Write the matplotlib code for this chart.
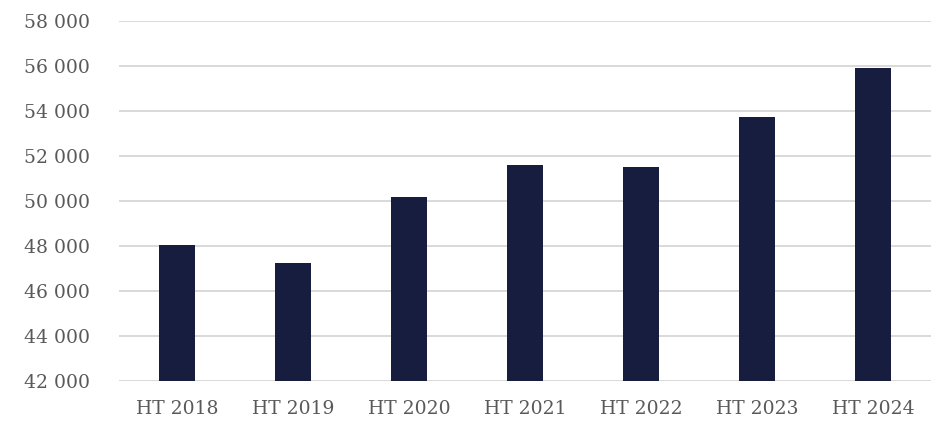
import matplotlib
matplotlib.use("Agg")
import matplotlib.pyplot as plt
from matplotlib.ticker import FuncFormatter

# data
periods = ["HT 2018", "HT 2019", "HT 2020", "HT 2021", "HT 2022", "HT 2023", "HT 2024"]
values = [48040, 47230, 50160, 51590, 51500, 53720, 55900]
y_ticks = list(range(42000, 58001, 2000))

BAR_COLOR = "#161d3e"
GRID_COLOR = "#d9d9d9"
TEXT_COLOR = "#595959"

plt.rcParams["font.family"] = ["DejaVu Serif"]

fig = plt.figure(figsize=(9.43, 4.22), dpi=100)
ax = fig.add_axes([119 / 943, 1 - 381 / 422, 812 / 943, 360 / 422])

x = list(range(len(periods)))
ax.bar(x, values, width=0.315, color=BAR_COLOR, zorder=3)

ax.set_ylim(42000, 58000)
ax.set_xlim(-0.5, len(periods) - 0.5)
ax.set_yticks(y_ticks)
ax.yaxis.set_major_formatter(FuncFormatter(lambda v, _: f"{int(v):,}".replace(",", " ")))
ax.set_xticks(x)
ax.set_xticklabels(periods)

for y in y_ticks:
    ax.axhline(y, color=GRID_COLOR, lw=1.4, zorder=0)

for side in ["top", "right", "left", "bottom"]:
    ax.spines[side].set_visible(False)

ax.tick_params(axis="both", length=0, labelsize=13.5, colors=TEXT_COLOR)
ax.tick_params(axis="y", pad=21)
ax.tick_params(axis="x", pad=14)

fig.savefig("out.png", dpi=100)
